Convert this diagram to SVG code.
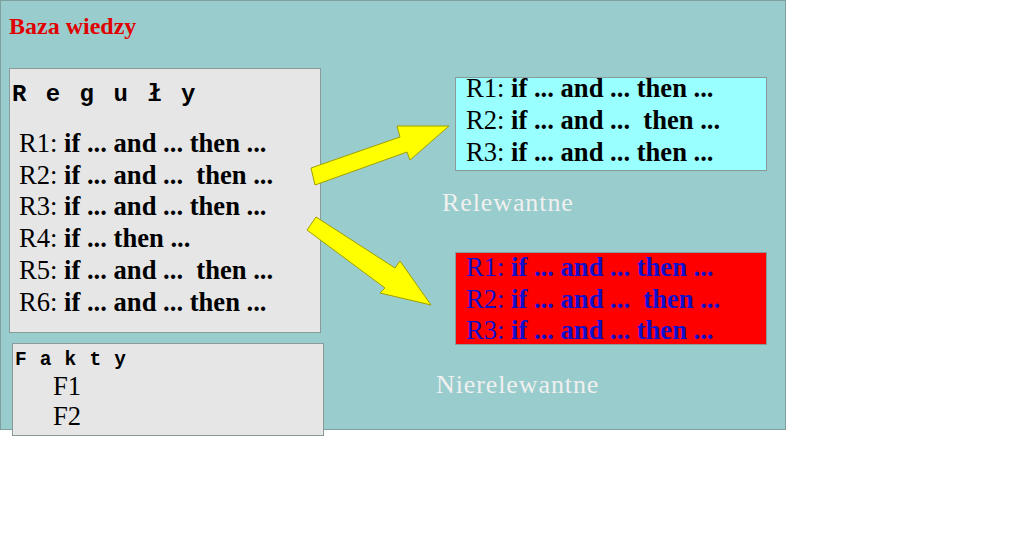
<svg xmlns="http://www.w3.org/2000/svg" width="1024" height="559" viewBox="0 0 1024 559">
<style>
.t{font-family:"Liberation Serif","Times New Roman",serif;font-size:26.6px;white-space:pre}
.b{font-weight:bold}
.m{font-family:"Liberation Mono","Courier New",monospace;font-weight:bold;white-space:pre}
.lbl{font-family:"Liberation Serif","Times New Roman",serif;font-size:26px;fill:#F0F0F0;letter-spacing:0.9px}
.box{stroke:#8A9A9A;stroke-width:1}
.arrow{fill:#FFFF00;stroke:#A0A000;stroke-width:1}
</style>
<rect width="1024" height="559" fill="#FFFFFF"/>
<g id="baza">
<rect x="0.5" y="0.5" width="785" height="429" fill="#99CCCC" stroke="#7F9F9F"/>
<text x="9" y="34" font-family="Liberation Serif, serif" font-size="24" font-weight="bold" fill="#E00000">Baza wiedzy</text>
</g>
<g id="reguly">
<rect class="box" x="9.5" y="68.5" width="311" height="264" fill="#E6E6E6"/>
<text class="m" x="12" y="101" font-size="24" letter-spacing="2.5">R e g u ł y</text>
<text class="t" x="19" y="152">R1: <tspan class="b">if ... and ... then ...</tspan></text>
<text class="t" x="19" y="184">R2: <tspan class="b">if ... and ...  then ...</tspan></text>
<text class="t" x="19" y="215">R3: <tspan class="b">if ... and ... then ...</tspan></text>
<text class="t" x="19" y="247">R4: <tspan class="b">if ... then ...</tspan></text>
<text class="t" x="19" y="279">R5: <tspan class="b">if ... and ...  then ...</tspan></text>
<text class="t" x="19" y="311">R6: <tspan class="b">if ... and ... then ...</tspan></text>
</g>
<g id="fakty">
<rect class="box" x="12.5" y="343.5" width="311" height="92" fill="#E6E6E6"/>
<text class="m" x="15" y="365" font-size="19.5" letter-spacing="0.7">F a k t y</text>
<text class="t" x="53" y="395" font-size="24.5">F1</text>
<text class="t" x="53" y="425" font-size="24.5">F2</text>
</g>
<g id="relewantne">
<rect class="box" x="455.5" y="77.5" width="311" height="93" fill="#99FFFF"/>
<text class="t" x="466" y="97">R1: <tspan class="b">if ... and ... then ...</tspan></text>
<text class="t" x="466" y="129">R2: <tspan class="b">if ... and ...  then ...</tspan></text>
<text class="t" x="466" y="161">R3: <tspan class="b">if ... and ... then ...</tspan></text>
<text class="lbl" x="442" y="211">Relewantne</text>
</g>
<g id="nierelewantne">
<rect class="box" x="455.5" y="252.5" width="311" height="92" fill="#FF0000"/>
<text class="t" x="466" y="276" fill="#1010CC">R1: <tspan class="b">if ... and ... then ...</tspan></text>
<text class="t" x="466" y="308" fill="#1010CC">R2: <tspan class="b">if ... and ...  then ...</tspan></text>
<text class="t" x="466" y="339" fill="#1010CC">R3: <tspan class="b">if ... and ... then ...</tspan></text>
<text class="lbl" x="436" y="393">Nierelewantne</text>
</g>
<g id="connectors">
<polygon class="arrow" points="311,168 400,137 397,126 449,126 410,160 407,152 315,185"/>
<polygon class="arrow" points="316,217 395,268 400,261 431,305 380,293 385,288 307,230"/>
</g>
</svg>
